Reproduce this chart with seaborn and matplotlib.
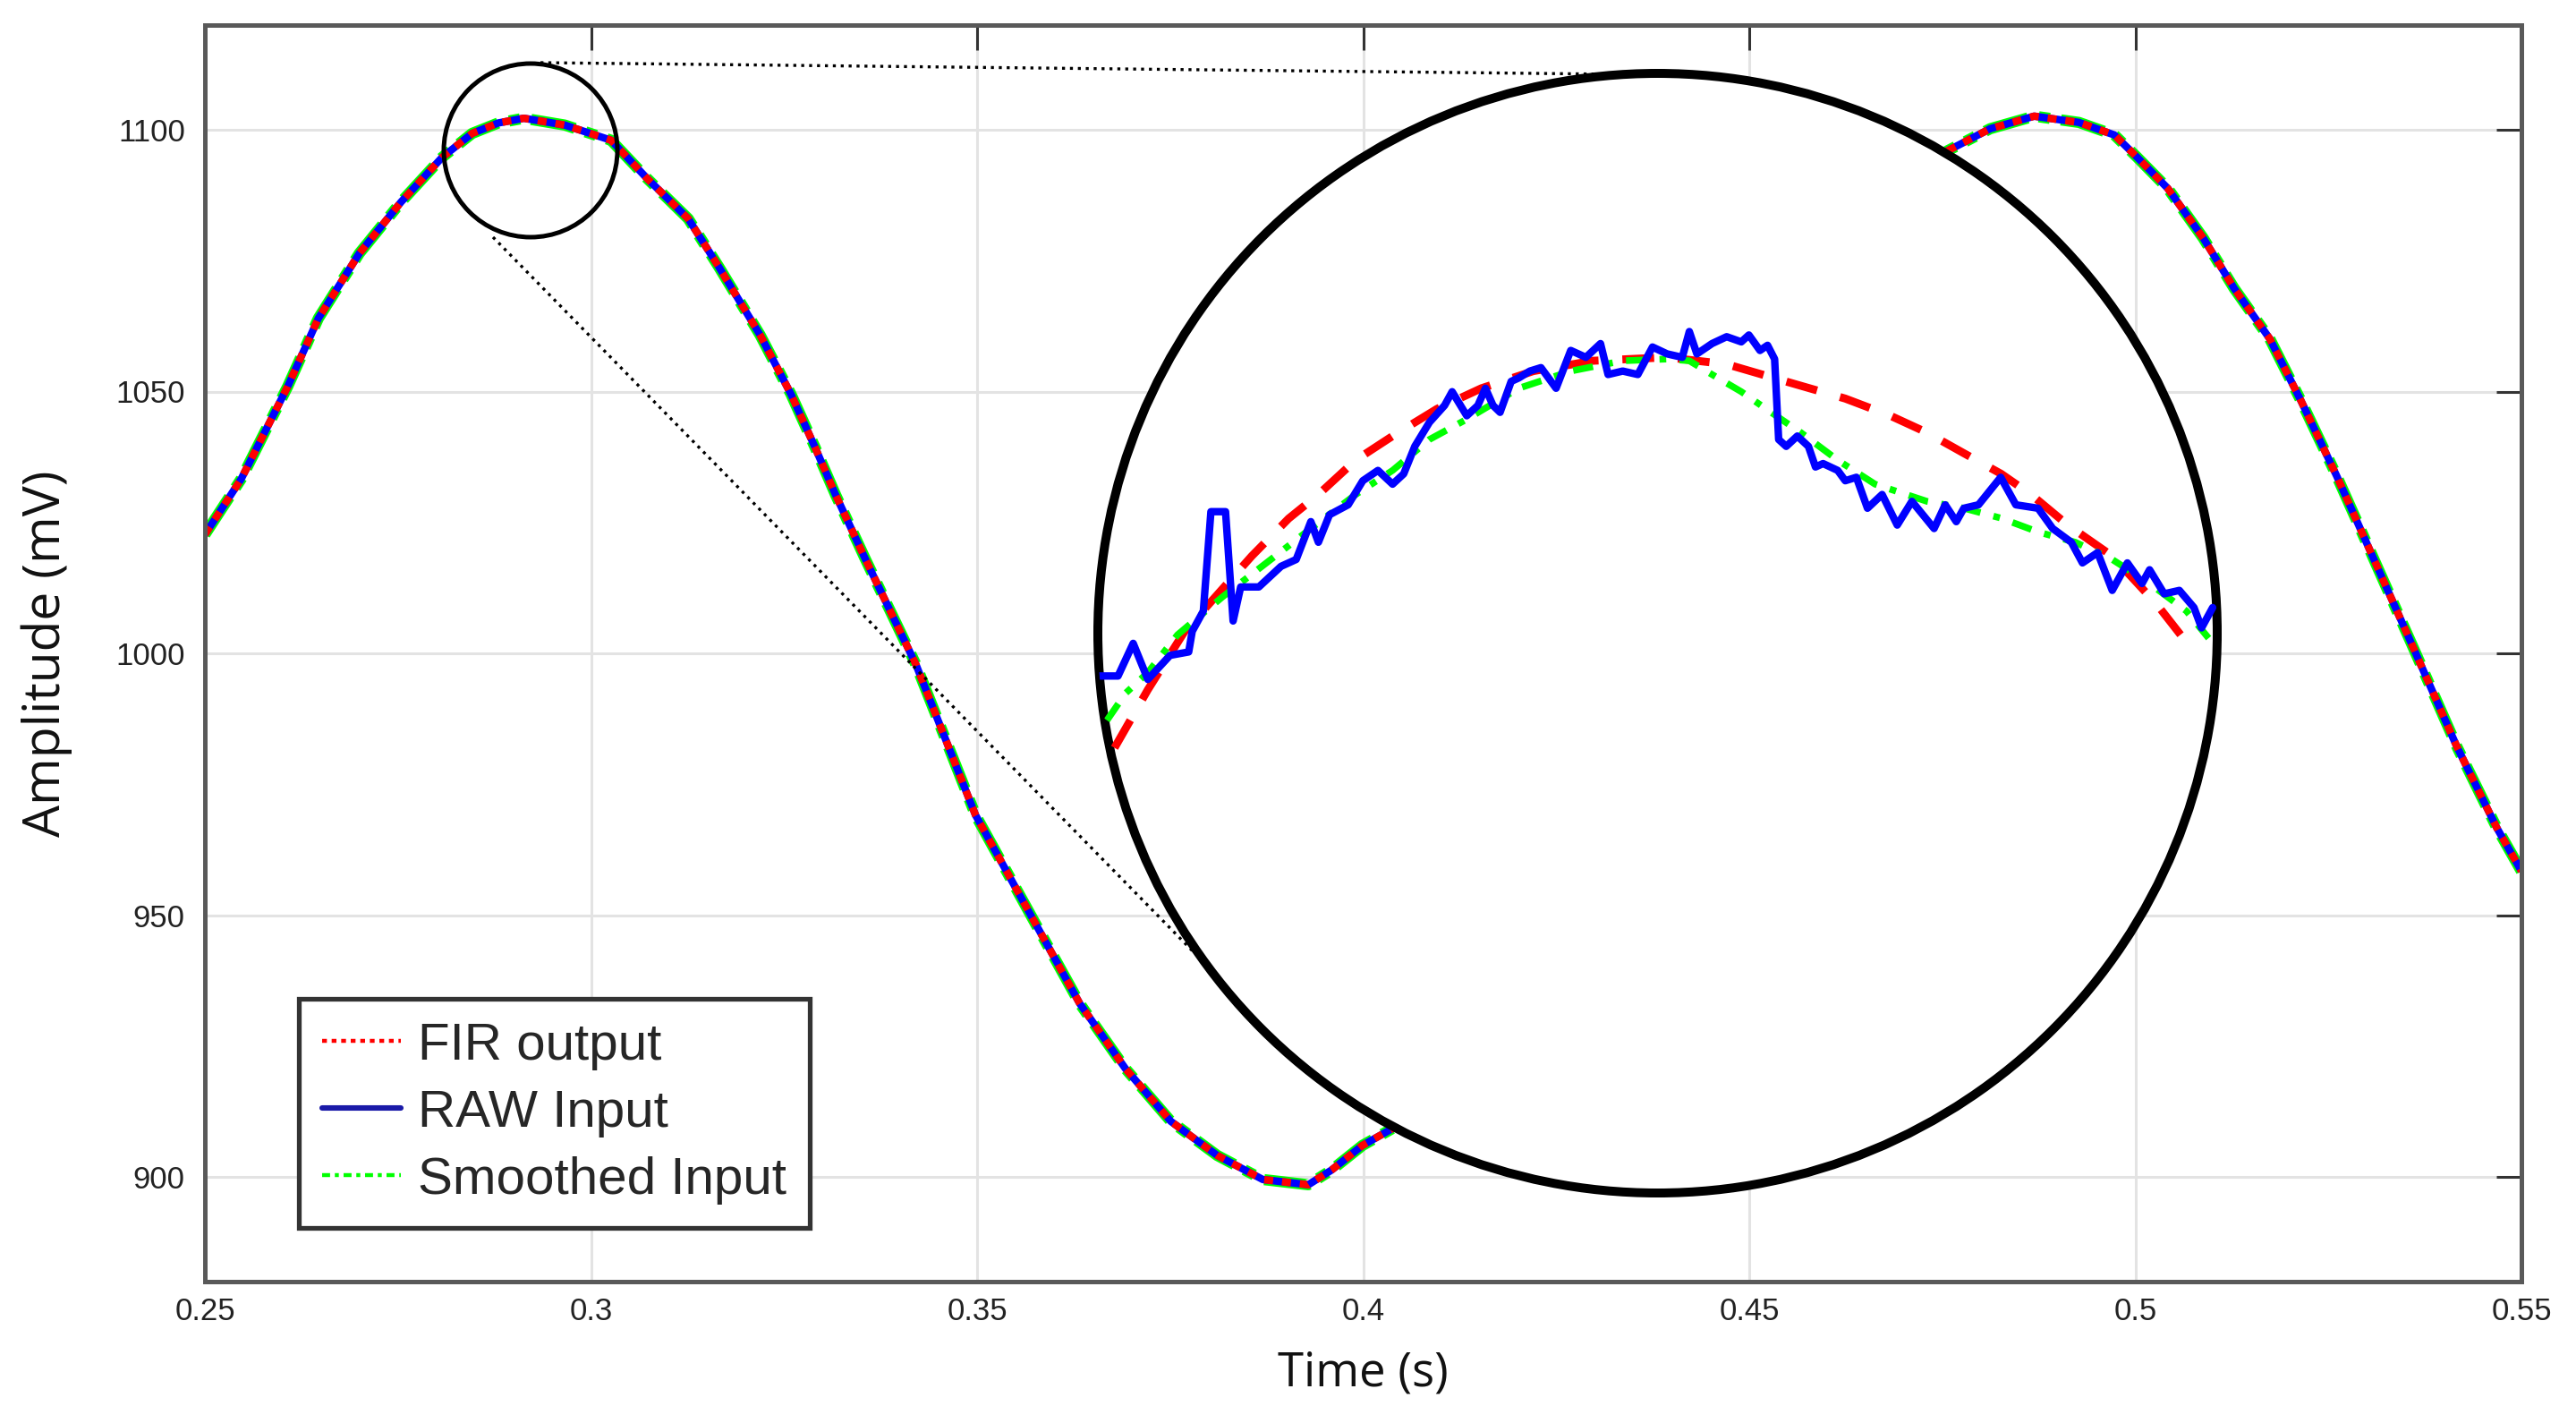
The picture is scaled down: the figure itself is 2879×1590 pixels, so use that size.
import numpy as np
import pandas as pd
import matplotlib
matplotlib.use("Agg")
import matplotlib.pyplot as plt
from matplotlib.patches import Circle, Ellipse
from matplotlib.lines import Line2D
import seaborn as sns

# ---------------- data ----------------
t_main = [0.2500, 0.2547, 0.2607, 0.2647, 0.2700, 0.2754, 0.2807, 0.2846, 0.2880, 0.2913,
          0.2966, 0.3026, 0.3072, 0.3126, 0.3166, 0.3219, 0.3259, 0.3290, 0.3317, 0.3355,
          0.3421, 0.3498, 0.3574, 0.3633, 0.3692, 0.3751, 0.3811, 0.3870, 0.3929, 0.3959,
          0.3999, 0.4041, 0.4100, 0.4200, 0.4300, 0.4400, 0.4500, 0.4600, 0.4700, 0.4757,
          0.4812, 0.4869, 0.4927, 0.4973, 0.5002, 0.5042, 0.5088, 0.5128, 0.5174, 0.5215,
          0.5261, 0.5301, 0.5359, 0.5416, 0.5468, 0.5500]
amp_main = [1022.7, 1033.3, 1050.9, 1064.0, 1076.4, 1086.2, 1094.7, 1099.3, 1101.3, 1102.2,
            1100.9, 1098.0, 1090.8, 1083.0, 1073.7, 1060.8, 1049.5, 1039.4, 1030.2, 1018.1,
            997.8, 969.1, 948.8, 933.1, 920.7, 910.6, 904.1, 899.5, 898.5, 901.3,
            906.0, 909.5, 917.0, 940.0, 975.0, 1015.0, 1050.0, 1075.0, 1090.0, 1096.0,
            1100.2, 1102.6, 1101.4, 1099.0, 1094.8, 1088.8, 1079.3, 1069.7, 1060.1, 1048.1,
            1033.8, 1020.6, 1001.4, 982.3, 966.7, 958.4]

# zoomed detail (inset)
t_raw_zoom = [0.28107, 0.28144, 0.28174, 0.28203, 0.28247, 0.28284, 0.28291, 0.28313, 0.28328, 0.28357,
              0.28372, 0.28387, 0.28423, 0.28467, 0.28497, 0.28526, 0.28541, 0.28563, 0.28600, 0.28629,
              0.28659, 0.28688, 0.28710, 0.28732, 0.28761, 0.28791, 0.28806, 0.28835, 0.28857, 0.28872,
              0.28887, 0.28901, 0.28923, 0.28938, 0.28960, 0.28982, 0.29012, 0.29041, 0.29071, 0.29100,
              0.29115, 0.29144, 0.29174, 0.29203, 0.29232, 0.29262, 0.29276, 0.29291, 0.29321, 0.29350,
              0.29379, 0.29394, 0.29416, 0.29431, 0.29445, 0.29453, 0.29468, 0.29490, 0.29512, 0.29526,
              0.29541, 0.29570, 0.29585, 0.29607, 0.29629, 0.29658, 0.29688, 0.29717, 0.29761, 0.29783,
              0.29805, 0.29820, 0.29849, 0.29893, 0.29923, 0.29967, 0.29996, 0.30033, 0.30055, 0.30085,
              0.30114, 0.30144, 0.30173, 0.30188, 0.30217, 0.30247, 0.30276, 0.30291, 0.30313]
raw_zoom = [1095.94, 1095.94, 1096.89, 1095.84, 1096.54, 1096.64, 1097.24, 1097.83, 1100.72, 1100.72,
            1097.54, 1098.53, 1098.53, 1099.13, 1099.33, 1100.43, 1099.83, 1100.63, 1100.92, 1101.62,
            1101.92, 1101.52, 1101.82, 1102.62, 1103.32, 1103.81, 1104.21, 1103.51, 1103.81, 1104.31,
            1103.81, 1103.61, 1104.51, 1104.61, 1104.81, 1104.91, 1104.31, 1105.41, 1105.21, 1105.61,
            1104.71, 1104.81, 1104.71, 1105.51, 1105.31, 1105.21, 1105.96, 1105.31, 1105.61, 1105.81,
            1105.66, 1105.86, 1105.41, 1105.56, 1105.16, 1102.82, 1102.62, 1102.92, 1102.62, 1102.02,
            1102.12, 1101.92, 1101.62, 1101.72, 1100.82, 1101.22, 1100.33, 1101.02, 1100.23, 1100.92,
            1100.43, 1100.82, 1100.92, 1101.72, 1100.92, 1100.82, 1100.23, 1099.83, 1099.23, 1099.53,
            1098.43, 1099.23, 1098.63, 1099.03, 1098.33, 1098.43, 1097.93, 1097.34, 1097.93]

t_fir_zoom = [0.28137, 0.28203, 0.28276, 0.28409, 0.28482, 0.28541, 0.28615, 0.28688, 0.28776, 0.28864,
              0.28967, 0.29085, 0.29232, 0.29350, 0.29467, 0.29585, 0.29673, 0.29747, 0.29820, 0.29894,
              0.29953, 0.30026, 0.30114, 0.30202, 0.30276]
fir_zoom = [1093.85, 1095.54, 1097.24, 1099.43, 1100.52, 1101.22, 1102.22, 1102.92, 1103.71, 1104.31,
            1104.81, 1105.11, 1105.21, 1105.01, 1104.51, 1104.01, 1103.52, 1103.02, 1102.42, 1101.82,
            1101.22, 1100.33, 1099.43, 1098.03, 1096.64]

t_smooth_zoom = [0.28122, 0.28159, 0.28203, 0.28262, 0.28350, 0.28438, 0.28526, 0.28615, 0.28688, 0.28761,
                 0.28835, 0.28938, 0.29041, 0.29144, 0.29232, 0.29276, 0.29321, 0.29379, 0.29438, 0.29497,
                 0.29570, 0.29644, 0.29747, 0.29820, 0.29894, 0.29967, 0.30041, 0.30114, 0.30188, 0.30261,
                 0.30305]
smooth_zoom = [1094.65, 1095.44, 1096.04, 1097.14, 1098.23, 1099.23, 1100.23, 1101.22, 1101.92, 1102.82,
               1103.41, 1104.31, 1104.81, 1105.11, 1105.16, 1105.11, 1104.71, 1104.21, 1103.61, 1103.02,
               1102.22, 1101.52, 1101.02, 1100.82, 1100.53, 1100.13, 1099.83, 1099.33, 1098.63, 1097.83,
               1097.04]

x_ticks = [0.25, 0.3, 0.35, 0.4, 0.45, 0.5, 0.55]
x_ticklabels = ["0.25", "0.3", "0.35", "0.4", "0.45", "0.5", "0.55"]
y_ticks = [900, 950, 1000, 1050, 1100]
y_ticklabels = ["900", "950", "1000", "1050", "1100"]
series_labels = ["FIR output", "RAW Input", "Smoothed Input"]

# ---------------- figure ----------------
sns.set_style("white")
plt.rcParams["font.family"] = ["Liberation Sans", "DejaVu Sans"]

W, H, DPI = 2879, 1590, 200
fig = plt.figure(figsize=(W / DPI, H / DPI), dpi=DPI, facecolor="white")
ax = fig.add_axes([229 / W, 1 - 1432 / H, 2589 / W, 1404 / H])

RED, BLUE, GREEN = "#ff0000", "#0000ff", "#00ff00"

df_main = pd.DataFrame({"t": t_main, "amp": amp_main})
sns.lineplot(data=df_main, x="t", y="amp", ax=ax, color=GREEN, lw=4.5, estimator=None, sort=False)
ax.lines[-1].set_dashes((4, 1, 1, 1))
sns.lineplot(data=df_main, x="t", y="amp", ax=ax, color=BLUE, lw=3.0, estimator=None, sort=False)
sns.lineplot(data=df_main, x="t", y="amp", ax=ax, color=RED, lw=3.0, estimator=None, sort=False)
ax.lines[-1].set_dashes((1.2, 1.2))
for ln in ax.lines:
    ln.set_solid_capstyle("butt")
    ln.set_dash_capstyle("butt")

ax.set_xlim(0.25, 0.55)
ax.set_ylim(880, 1120)
ax.set_xticks(x_ticks)
ax.set_xticklabels(x_ticklabels)
ax.set_yticks(y_ticks)
ax.set_yticklabels(y_ticklabels)
ax.grid(True, color="#e3e3e3", lw=1.1)
ax.set_axisbelow(True)
for sp in ax.spines.values():
    sp.set_visible(True)
    sp.set_color("#595959")
    sp.set_linewidth(1.8)
ax.tick_params(direction="in", length=10, width=1.1, color="#333333",
               top=True, right=True, labelsize=12.5, labelcolor="#222222")
ax.tick_params(axis="x", pad=6)
ax.tick_params(axis="y", pad=8)

ax.set_xlabel("Time (s)", family=["Open Sans", "DejaVu Sans"], fontsize=19, color="#111111")
ax.set_ylabel("Amplitude (mV)", family=["Open Sans", "DejaVu Sans"], fontsize=20.5, color="#111111")
ax.xaxis.set_label_coords(0.5, -0.054)
ax.yaxis.set_label_coords(-0.0572, 0.5)

handles = [Line2D([], [], color=RED, lw=1.6, dashes=(1.2, 1.2)),
           Line2D([], [], color="#1a1aa8", lw=2.2),
           Line2D([], [], color=GREEN, lw=1.6, dashes=(2, 1.2, 1, 1.2))]
leg = ax.legend(handles=handles, labels=series_labels, loc="lower left",
                bbox_to_anchor=((334 - 229) / 2589, (1432 - 1372) / 1404), borderaxespad=0,
                prop={"family": ["Liberation Sans", "DejaVu Sans"], "size": 21},
                frameon=True, fancybox=False, framealpha=1, edgecolor="#333333",
                handlelength=1.5, handletextpad=0.33, labelspacing=0.36, borderpad=0.45)
leg.get_frame().set_linewidth(1.9)

# ---------------- magnified inset ----------------
cx0, cy0, cx1, cy1 = 1227, 82, 2478, 1333
ax_in = fig.add_axes([cx0 / W, 1 - cy1 / H, (cx1 - cx0) / W, (cy1 - cy0) / H])
ax_in.set_xlim(0.28104, 0.30322)
ax_in.set_ylim(1080.9, 1113.47)
ax_in.axis("off")
circ = Circle((0.5, 0.5), 0.5, transform=ax_in.transAxes, facecolor="white",
              edgecolor="black", lw=3.6, clip_on=False, zorder=0)
ax_in.add_patch(circ)

df_fir = pd.DataFrame({"t": t_fir_zoom, "amp": fir_zoom})
df_sm = pd.DataFrame({"t": t_smooth_zoom, "amp": smooth_zoom})
df_raw = pd.DataFrame({"t": t_raw_zoom, "amp": raw_zoom})
sns.lineplot(data=df_fir, x="t", y="amp", ax=ax_in, color=RED, lw=3.2, estimator=None, sort=False)
ax_in.lines[-1].set_dashes((4.0, 3.0))
sns.lineplot(data=df_sm, x="t", y="amp", ax=ax_in, color=GREEN, lw=2.7, estimator=None, sort=False)
ax_in.lines[-1].set_dashes((3, 2, 1, 2))
sns.lineplot(data=df_raw, x="t", y="amp", ax=ax_in, color=BLUE, lw=3.0, estimator=None, sort=False)
for ln in ax_in.lines:
    ln.set_clip_path(circ)
    ln.set_zorder(2)
ax_in.lines[-1].set_zorder(3)
ax_in.set_xlim(0.28104, 0.30322)
ax_in.set_ylim(1080.9, 1113.47)
ax_in.axis("off")

# small source circle and connectors (figure-level annotations)
fig.add_artist(Ellipse((593 / W, 1 - 168 / H), 194 / W, 194 / H, transform=fig.transFigure,
                       facecolor="none", edgecolor="black", lw=1.8, zorder=3))
fig.add_artist(Line2D([604 / W, 1810 / W], [1 - 70 / H, 1 - 83 / H], transform=fig.transFigure,
                      color="black", lw=1.2, ls=":", zorder=3))
fig.add_artist(Line2D([551 / W, 1343 / W], [1 - 265 / H, 1 - 1073 / H], transform=fig.transFigure,
                      color="black", lw=1.2, ls=":", zorder=3))

fig.savefig("out.png", dpi=DPI, facecolor="white")
